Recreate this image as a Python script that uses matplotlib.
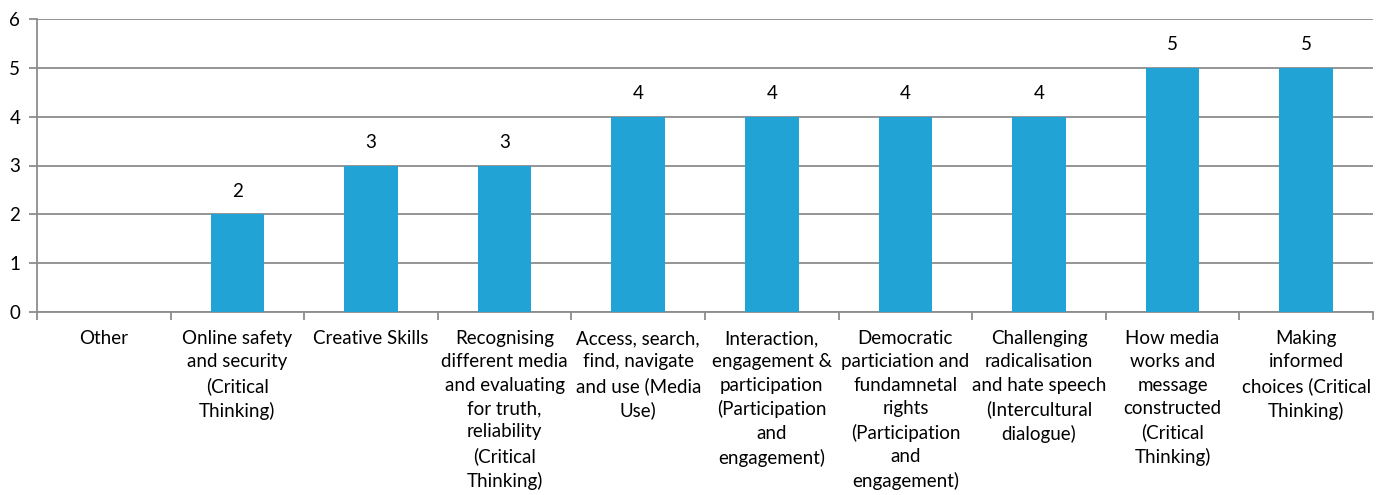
import matplotlib
matplotlib.use("Agg")
import matplotlib.pyplot as plt
import numpy as np

categories = [
    "Other",
    "Online safety\nand security\n(Critical\nThinking)",
    "Creative Skills",
    "Recognising\ndifferent media\nand evaluating\nfor truth,\nreliability\n(Critical\nThinking)",
    "Access, search,\nfind, navigate\nand use (Media\nUse)",
    "Interaction,\nengagement &\nparticipation\n(Participation\nand\nengagement)",
    "Democratic\nparticiation and\nfundamnetal\nrights\n(Participation\nand\nengagement)",
    "Challenging\nradicalisation\nand hate speech\n(Intercultural\ndialogue)",
    "How media\nworks and\nmessage\nconstructed\n(Critical\nThinking)",
    "Making\ninformed\nchoices (Critical\nThinking)",
]
values = [0, 2, 3, 3, 4, 4, 4, 4, 5, 5]

plt.rcParams['font.family'] = ['Lato', 'DejaVu Sans']

fig = plt.figure(figsize=(13.79, 4.95), dpi=100)
ax = fig.add_axes([37/1379, (495-312)/495, 1336/1379, 293/495])

x = np.arange(len(categories))
bars = ax.bar(x, values, width=0.4, color='#22a3d6', zorder=3)
for xi, v in zip(x, values):
    if v > 0:
        ax.text(xi, v + 0.3, str(v), ha='center', va='bottom', fontsize=13.5)

ax.set_xlim(-0.5, len(categories) - 0.5)
ax.set_ylim(0, 6)
ax.set_yticks(range(7))
ax.yaxis.grid(True, color='#8c8c8c', linewidth=1.3, zorder=0)
ax.set_axisbelow(True)

ax.set_xticks(x)
ax.set_xticklabels(categories, fontsize=13.5, linespacing=1.45, va='top')
ax.tick_params(axis='x', length=0, pad=13)
ax.set_xticks(np.arange(-0.5, len(categories) + 0.5, 1), minor=True)
ax.tick_params(axis='x', which='minor', length=6, color='#8c8c8c', width=1.3)
ax.tick_params(axis='y', length=6, color='#8c8c8c', width=1.3, labelsize=13.5, pad=6)

for s in ['top', 'right']:
    ax.spines[s].set_visible(False)
for s in ['left', 'bottom']:
    ax.spines[s].set_color('#8c8c8c')
    ax.spines[s].set_linewidth(1.3)

fig.savefig('out.png', dpi=100)
